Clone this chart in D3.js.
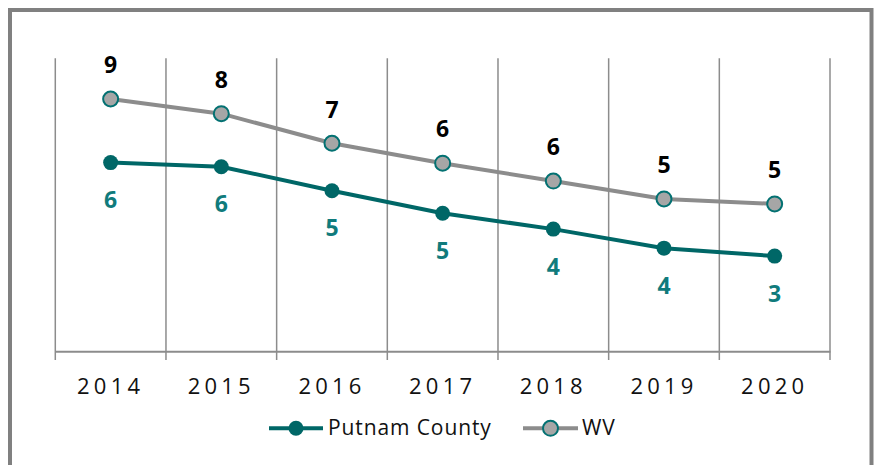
<!DOCTYPE html>
<html><head><meta charset="utf-8">
<script src="https://cdn.jsdelivr.net/npm/d3@7"></script>
<style>body{margin:0;background:#fff;} svg{display:block;} text{font-family:"Open Sans",sans-serif;}</style>
</head><body>
<script>
const years = ["2014","2015","2016","2017","2018","2019","2020"];
const putnam = [6.44, 6.30, 5.48, 4.71, 4.17, 3.52, 3.25];
const wv = [8.61, 8.11, 7.10, 6.42, 5.81, 5.20, 5.03];
const seriesNames = ["Putnam County", "WV"];

const W = 874, H = 465;
const svg = d3.select("body").append("svg").attr("width", W).attr("height", H);

svg.append("rect").attr("x", 10).attr("y", 10).attr("width", 861.5).attr("height", 470)
  .attr("fill", "#fff").attr("stroke", "#808080").attr("stroke-width", 4);

const x = d3.scaleBand().domain(years).range([55.3, 830]);
const y = d3.scaleLinear().domain([0, 10]).range([351.3, 58.3]);
const fmt = d3.format(".0f");

// vertical gridlines at category boundaries
const bounds = years.map(d => x(d)).concat([x.range()[1]]);
svg.append("g").selectAll("line").data(bounds).join("line")
  .attr("x1", d => d).attr("x2", d => d).attr("y1", y(10)).attr("y2", 360)
  .attr("stroke", "#8c8c8c").attr("stroke-width", 1.5);

// x axis
const xAxis = svg.append("g").attr("transform", `translate(0,${y(0)})`)
  .call(d3.axisBottom(x).tickSize(0).tickPadding(0));
xAxis.select(".domain").attr("stroke", "#8c8c8c").attr("stroke-width", 2);
xAxis.selectAll("text").attr("font-size", 22).attr("letter-spacing", "4.2px")
  .attr("fill", "#111").attr("dy", null).attr("y", 43);

const cx = d => x(d) + x.bandwidth() / 2;
const line = d3.line().x((d, i) => cx(years[i])).y(d => y(d));

// WV series
svg.append("path").datum(wv).attr("d", line).attr("fill", "none")
  .attr("stroke", "#8c8c8c").attr("stroke-width", 4).attr("stroke-linejoin", "round");
// Putnam series
svg.append("path").datum(putnam).attr("d", line).attr("fill", "none")
  .attr("stroke", "#006767").attr("stroke-width", 4).attr("stroke-linejoin", "round");

svg.append("g").selectAll("circle").data(wv).join("circle")
  .attr("cx", (d, i) => cx(years[i])).attr("cy", d => y(d)).attr("r", 7.5)
  .attr("fill", "#a6a6a6").attr("stroke", "#037172").attr("stroke-width", 2);
svg.append("g").selectAll("circle").data(putnam).join("circle")
  .attr("cx", (d, i) => cx(years[i])).attr("cy", d => y(d)).attr("r", 7.5)
  .attr("fill", "#006767");

// data labels
svg.append("g").selectAll("text").data(wv).join("text")
  .attr("x", (d, i) => cx(years[i])).attr("y", d => y(d) - 25.7)
  .attr("text-anchor", "middle").attr("font-size", 23).attr("font-weight", "bold")
  .attr("fill", "#000").text(d => fmt(d));
svg.append("g").selectAll("text").data(putnam).join("text")
  .attr("x", (d, i) => cx(years[i])).attr("y", d => y(d) + 45.6)
  .attr("text-anchor", "middle").attr("font-size", 23).attr("font-weight", "bold")
  .attr("fill", "#107b7c").text(d => fmt(d));

// legend
const leg = svg.append("g");
const legItems = [
  {name: seriesNames[0], x0: 269, x1: 323, tx: 328, line: "#006767", fill: "#006767", stroke: "none"},
  {name: seriesNames[1], x0: 523, x1: 578, tx: 582, line: "#8c8c8c", fill: "#a6a6a6", stroke: "#037172"}
];
legItems.forEach(it => {
  leg.append("line").attr("x1", it.x0).attr("x2", it.x1).attr("y1", 428.3).attr("y2", 428.3)
    .attr("stroke", it.line).attr("stroke-width", 4);
  leg.append("circle").attr("cx", (it.x0 + it.x1) / 2).attr("cy", 428.3).attr("r", 7.5)
    .attr("fill", it.fill).attr("stroke", it.stroke).attr("stroke-width", 2);
  leg.append("text").attr("x", it.tx).attr("y", 435).attr("font-size", 21)
    .attr("letter-spacing", "0.9px").attr("fill", "#111").text(it.name);
});
</script>
</body></html>
